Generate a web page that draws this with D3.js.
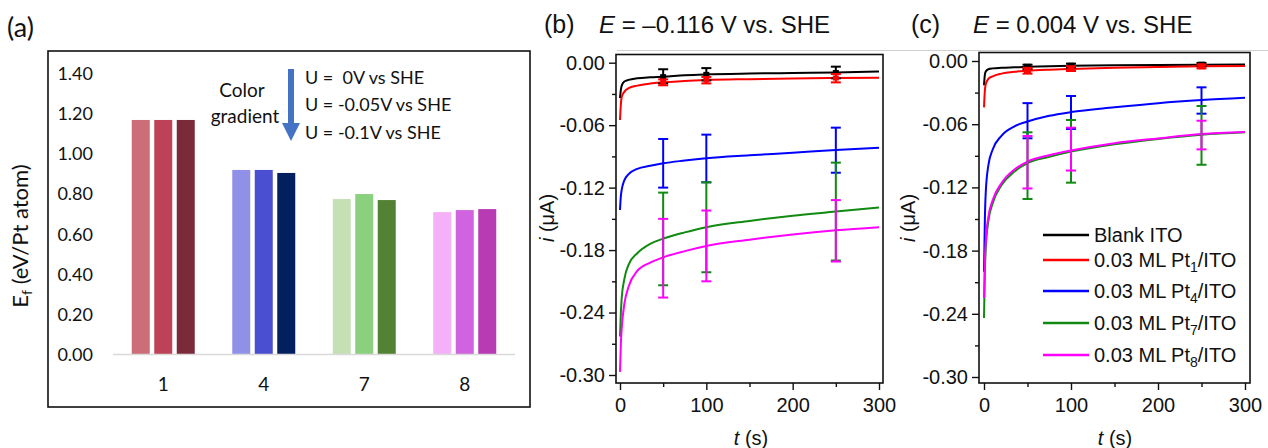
<!DOCTYPE html>
<html>
<head>
<meta charset="utf-8">
<script src="https://cdn.jsdelivr.net/npm/d3@7"></script>
<style>
  html, body { margin: 0; padding: 0; background: #fff; }
  svg { display: block; }
  .fb { font-family: "Liberation Sans", Arial, sans-serif; }
  .fa { font-family: Lato, "Open Sans", sans-serif; }
</style>
</head>
<body>
<svg id="chart" width="1268" height="448"></svg>
<script>
// ---------------- DATA ----------------
// Panel (a)
const categories = ["1", "4", "7", "8"];
const potentials = ["U =  0V vs SHE", "U = -0.05V vs SHE", "U = -0.1V vs SHE"];
const energyU0    = [1.166, 0.917, 0.772, 0.707];
const energyU005  = [1.166, 0.917, 0.797, 0.717];
const energyU01   = [1.166, 0.902, 0.767, 0.722];
const barColors = [
  ["#CD6D78", "#BE4257", "#7B2A3A"],
  ["#9090E8", "#4A4ED0", "#03205E"],
  ["#C5E0B4", "#8AD07E", "#548235"],
  ["#F4B0F8", "#D063E0", "#B83BB4"]
];
const yTicksA = [0, 0.2, 0.4, 0.6, 0.8, 1.0, 1.2, 1.4];

// Panels (b), (c)
const seriesBase = ["Blank ITO", "0.03 ML Pt", "0.03 ML Pt", "0.03 ML Pt", "0.03 ML Pt"];
const seriesSub  = ["", "1", "4", "7", "8"];
const seriesColors = ["#000000", "#FF0000", "#0000FF", "#108A10", "#FF00FF"];
const xTicks = [0, 100, 200, 300];
const xMinor = [50, 150, 250];
const yTicksI = [0, -0.06, -0.12, -0.18, -0.24, -0.30];
const yMinorI = [-0.03, -0.09, -0.15, -0.21, -0.27];

// (b) E = -0.116 V
const timeB = [0, 1, 2, 5, 10, 20, 35, 50, 75, 100, 150, 200, 250, 300];
const bBlank = [-0.034, -0.026, -0.022, -0.018, -0.0165, -0.015, -0.014, -0.0134, -0.012, -0.0112, -0.0104, -0.0099, -0.0094, -0.0085];
const bPt1   = [-0.055, -0.040, -0.033, -0.028, -0.0245, -0.022, -0.020, -0.0189, -0.0175, -0.0166, -0.0158, -0.0152, -0.0147, -0.0145];
const bPt4   = [-0.1415, -0.128, -0.122, -0.113, -0.107, -0.102, -0.099, -0.0966, -0.094, -0.0918, -0.089, -0.0865, -0.0838, -0.0816];
const bPt7   = [-0.263, -0.240, -0.226, -0.208, -0.194, -0.183, -0.174, -0.169, -0.163, -0.158, -0.152, -0.147, -0.143, -0.139];
const bPt8   = [-0.297, -0.270, -0.255, -0.232, -0.215, -0.200, -0.192, -0.187, -0.181, -0.176, -0.170, -0.165, -0.161, -0.158];

// (c) E = 0.004 V
const timeC = [0, 1, 2, 5, 10, 20, 35, 50, 75, 100, 150, 200, 250, 300];
const cBlank = [-0.023, -0.013, -0.010, -0.0078, -0.0070, -0.0065, -0.006, -0.0055, -0.0049, -0.0045, -0.0040, -0.0037, -0.0035, -0.0034];
const cPt1   = [-0.044, -0.028, -0.022, -0.017, -0.0145, -0.012, -0.0102, -0.0092, -0.0082, -0.0075, -0.0064, -0.0056, -0.0050, -0.0047];
const cPt4   = [-0.200, -0.150, -0.125, -0.099, -0.084, -0.071, -0.062, -0.0575, -0.052, -0.0485, -0.044, -0.040, -0.037, -0.0348];
const cPt7   = [-0.244, -0.200, -0.178, -0.152, -0.135, -0.118, -0.105, -0.097, -0.091, -0.086, -0.079, -0.074, -0.070, -0.0677];
const cPt8   = [-0.225, -0.190, -0.172, -0.148, -0.132, -0.116, -0.103, -0.0955, -0.0895, -0.085, -0.078, -0.0735, -0.0694, -0.0675];

// error bars: times and [high, low] per series
const errTimes = [50, 100, 250];
const bErrHi = [[-0.0063, -0.0052, -0.0038], [-0.016, -0.0137, -0.0109], [-0.0733, -0.0691, -0.0624], [-0.1248, -0.1149, -0.096], [-0.150, -0.142, -0.132]];
const bErrLo = [[-0.0198, -0.0170, -0.0150], [-0.0217, -0.0199, -0.0189], [-0.120, -0.1149, -0.1057], [-0.2138, -0.2013, -0.190], [-0.2256, -0.210, -0.191]];
const cErrHi = [[-0.0035, -0.0025, -0.0018], [-0.0065, -0.005, -0.0035], [-0.040, -0.0332, -0.025], [-0.0677, -0.056, -0.0427], [-0.0712, -0.0633, -0.0567]];
const cErrLo = [[-0.0075, -0.0062, -0.0050], [-0.012, -0.0095, -0.007], [-0.0734, -0.0645, -0.050], [-0.131, -0.1155, -0.0985], [-0.121, -0.104, -0.0839]];

// ---------------- DRAW ----------------
const svg = d3.select("#chart");

// ===== Panel (a) =====
svg.append("text").attr("class", "fa").attr("x", 7).attr("y", 37).attr("font-size", 27).attr("fill", "#111").text("(a)");
svg.append("rect").attr("x", 48).attr("y", 51).attr("width", 482).attr("height", 356)
  .attr("fill", "none").attr("stroke", "#111").attr("stroke-width", 1.6);

const xA = d3.scaleBand().domain(categories).range([113, 515]);
const xInner = d3.scaleBand().domain([0, 1, 2]).range([-31.5, 31.5]).paddingInner(0.2);
const yA = d3.scaleLinear().domain([0, 1.4]).range([354, 73]);

svg.append("g").selectAll("text").data(yTicksA).join("text")
  .attr("class", "fa")
  .attr("x", 93).attr("y", d => yA(d) + 7)
  .attr("text-anchor", "end").attr("font-size", 18).attr("fill", "#111")
  .text(d => d.toFixed(2));

const energies = [energyU0, energyU005, energyU01];
const barData = [];
categories.forEach((c, i) => energies.forEach((arr, j) => barData.push({ c, i, j, v: arr[i] })));
svg.append("g").selectAll("rect").data(barData).join("rect")
  .attr("x", d => xA(d.c) + xA.bandwidth() / 2 + xInner(d.j))
  .attr("width", xInner.bandwidth())
  .attr("y", d => yA(d.v))
  .attr("height", d => yA(0) - yA(d.v))
  .attr("fill", d => barColors[d.i][d.j]);

svg.append("line").attr("x1", 113).attr("x2", 515).attr("y1", yA(0) + 0.5).attr("y2", yA(0) + 0.5)
  .attr("stroke", "#d9d9d9").attr("stroke-width", 1.5);

svg.append("g").selectAll("text").data(categories).join("text")
  .attr("class", "fa")
  .attr("x", d => xA(d) + xA.bandwidth() / 2).attr("y", 391)
  .attr("text-anchor", "middle").attr("font-size", 19).attr("fill", "#111")
  .text(d => d);

// y label
const yLabA = svg.append("text").attr("class", "fa").attr("transform", "translate(28,236) rotate(-90)")
  .attr("text-anchor", "middle").attr("font-size", 22).attr("fill", "#111");
yLabA.append("tspan").text("E");
yLabA.append("tspan").attr("font-size", 14).attr("dy", 4).text("f");
yLabA.append("tspan").attr("dy", -4).text(" (eV/Pt atom)");

// color gradient annotation
svg.append("text").attr("class", "fa").attr("x", 242).attr("y", 97).attr("text-anchor", "middle")
  .attr("font-size", 19).attr("fill", "#111").text("Color");
svg.append("text").attr("class", "fa").attr("x", 245).attr("y", 123).attr("text-anchor", "middle")
  .attr("font-size", 19).attr("fill", "#111").text("gradient");
svg.append("rect").attr("x", 288).attr("y", 69).attr("width", 6).attr("height", 55).attr("fill", "#4472C4");
svg.append("path").attr("d", "M282,123 L300,123 L291,141 Z").attr("fill", "#4472C4");
svg.append("g").selectAll("text").data(potentials).join("text")
  .attr("class", "fa")
  .attr("x", 305).attr("y", (d, i) => [84, 111, 139][i])
  .attr("font-size", 18).attr("fill", "#111")
  .style("white-space", "pre")
  .text(d => d);

// top grey line behind (b), (c)
svg.append("line").attr("x1", 617).attr("x2", 1268).attr("y1", 50.5).attr("y2", 50.5)
  .attr("stroke", "#d0d0d0").attr("stroke-width", 1.2);

// ===== Panels (b), (c) =====
function drawPanel(opt) {
  const x = d3.scaleLinear().domain([0, 300]).range([opt.x0, opt.x300]);
  const y = d3.scaleLinear().domain([0, -0.30]).range([opt.y0, opt.y30]);
  const g = svg.append("g");

  // frame
  g.append("rect").attr("x", opt.fl).attr("y", opt.ft).attr("width", opt.fr - opt.fl).attr("height", opt.fb - opt.ft)
    .attr("fill", "#fff").attr("stroke", "#111").attr("stroke-width", 1.6);

  // y axis
  const yAxis = d3.axisLeft(y).tickValues(yTicksI).tickSize(7).tickPadding(4).tickFormat(d => d === 0 ? "0.00" : d.toFixed(2));
  const ya = g.append("g").attr("transform", `translate(${opt.fl},0)`).call(yAxis);
  ya.attr("font-family", null).attr("font-size", null);
  ya.select(".domain").remove();
  ya.selectAll(".tick line").attr("stroke", "#111").attr("stroke-width", 1.4);
  ya.selectAll(".tick text").attr("class", "fb").attr("font-size", 20).attr("fill", "#111");
  const ym = g.append("g").attr("transform", `translate(${opt.fl},0)`).call(d3.axisLeft(y).tickValues(yMinorI).tickSize(4).tickFormat(""));
  ym.select(".domain").remove();
  ym.selectAll(".tick line").attr("stroke", "#111").attr("stroke-width", 1.4);

  // x axis
  const xa = g.append("g").attr("transform", `translate(0,${opt.fb})`).call(d3.axisBottom(x).tickValues(xTicks).tickSize(7).tickPadding(8));
  xa.attr("font-family", null).attr("font-size", null);
  xa.select(".domain").remove();
  xa.selectAll(".tick line").attr("stroke", "#111").attr("stroke-width", 1.4);
  xa.selectAll(".tick text").attr("class", "fb").attr("font-size", 20).attr("fill", "#111");
  const xm = g.append("g").attr("transform", `translate(0,${opt.fb})`).call(d3.axisBottom(x).tickValues(xMinor).tickSize(4).tickFormat(""));
  xm.select(".domain").remove();
  xm.selectAll(".tick line").attr("stroke", "#111").attr("stroke-width", 1.4);

  // curves
  const line = d3.line().x(d => x(d[0])).y(d => y(d[1])).curve(d3.curveMonotoneX);
  opt.series.forEach((vals, k) => {
    g.append("path").datum(opt.time.map((t, i) => [t, vals[i]]))
      .attr("d", line).attr("fill", "none").attr("stroke", seriesColors[k]).attr("stroke-width", 2);
  });

  // error bars + markers
  opt.series.forEach((vals, k) => {
    errTimes.forEach((t, i) => {
      const hi = opt.errHi[k][i], lo = opt.errLo[k][i];
      const col = seriesColors[k];
      const cx = x(t);
      g.append("line").attr("x1", cx).attr("x2", cx).attr("y1", y(hi)).attr("y2", y(lo)).attr("stroke", col).attr("stroke-width", 2);
      [hi, lo].forEach(v => g.append("line").attr("x1", cx - 5).attr("x2", cx + 5).attr("y1", y(v)).attr("y2", y(v)).attr("stroke", col).attr("stroke-width", 2));
      if (k < 2) {
        const idx = opt.time.indexOf(t);
        g.append("rect").attr("x", cx - opt.ms / 2).attr("y", y(vals[idx]) - opt.ms / 2 + 0.5)
          .attr("width", opt.ms).attr("height", opt.ms - 1).attr("fill", col);
      }
    });
  });

  // labels
  g.append("text").attr("class", "fb").attr("x", opt.labX).attr("y", 33).attr("font-size", 25).attr("fill", "#111").text(opt.label);
  const tt = g.append("text").attr("class", "fb").attr("x", opt.titleX).attr("y", 33).attr("font-size", 24).attr("fill", "#111");
  tt.append("tspan").attr("font-style", "italic").text("E");
  tt.append("tspan").text(opt.title);

  const yl = g.append("text").attr("class", "fb").attr("transform", `translate(${opt.yLabX},218) rotate(-90)`).attr("text-anchor", "middle")
    .attr("font-size", 20).attr("fill", "#111");
  yl.append("tspan").attr("font-style", "italic").text("i");
  yl.append("tspan").text(" (μA)");

  const xl = g.append("text").attr("class", "fb").attr("x", opt.xLabX).attr("y", 445).attr("text-anchor", "middle")
    .attr("font-size", 20).attr("fill", "#111");
  xl.append("tspan").attr("font-style", "italic").text("t");
  xl.append("tspan").text(" (s)");

  return { g, x, y };
}

drawPanel({
  fl: 616, fr: 883, ft: 54.5, fb: 383,
  x0: 620, x300: 879, y0: 62.7, y30: 375,
  time: timeB, series: [bBlank, bPt1, bPt4, bPt7, bPt8], errHi: bErrHi, errLo: bErrLo, ms: 6,
  label: "(b)", labX: 544, title: " = \u20130.116 V vs. SHE", titleX: 599,
  yLabX: 554, xLabX: 751
});

const pc = drawPanel({
  fl: 979, fr: 1250, ft: 52.5, fb: 383,
  x0: 984, x300: 1245, y0: 61, y30: 377,
  time: timeC, series: [cBlank, cPt1, cPt4, cPt7, cPt8], errHi: cErrHi, errLo: cErrLo, ms: 7,
  label: "(c)", labX: 911, title: " = 0.004 V vs. SHE", titleX: 973,
  yLabX: 915, xLabX: 1115
});

// legend in (c)
const legY = [242, 267, 298, 330, 362];
const leg = pc.g.append("g");
seriesBase.forEach((name, k) => {
  leg.append("line").attr("x1", 1043).attr("x2", 1089).attr("y1", legY[k] - 7).attr("y2", legY[k] - 7)
    .attr("stroke", seriesColors[k]).attr("stroke-width", 2.5);
  const t = leg.append("text").attr("class", "fb").attr("x", 1094).attr("y", legY[k]).attr("font-size", 20).attr("fill", "#111");
  t.append("tspan").text(name);
  if (seriesSub[k]) {
    t.append("tspan").attr("font-size", 14).attr("dy", 5).text(seriesSub[k]);
    t.append("tspan").attr("dy", -5).text("/ITO");
  }
});
</script>
</body>
</html>
